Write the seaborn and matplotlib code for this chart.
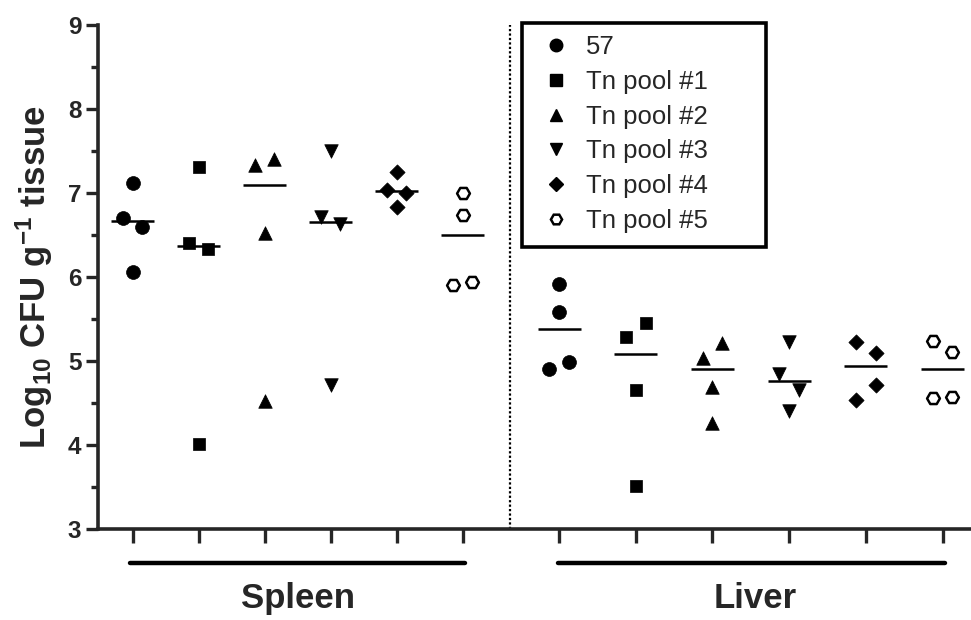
import numpy as np
import pandas as pd
import matplotlib
matplotlib.use("Agg")
import matplotlib.pyplot as plt
import matplotlib.transforms as mtransforms
from matplotlib.lines import Line2D
from matplotlib.patches import Rectangle
import seaborn as sns

# ---------------- data ----------------
groups = ["57", "Tn pool #1", "Tn pool #2", "Tn pool #3", "Tn pool #4", "Tn pool #5"]
tissues = ["Spleen", "Liver"]

spleen_57 = [7.12, 6.70, 6.60, 6.06]
spleen_tn1 = [7.31, 6.41, 6.33, 4.01]
spleen_tn2 = [7.33, 7.40, 6.52, 4.52]
spleen_tn3 = [7.50, 6.72, 6.63, 4.71]
spleen_tn4 = [7.25, 7.03, 7.00, 6.83]
spleen_tn5 = [7.00, 6.74, 5.91, 5.94]

liver_57 = [5.92, 5.58, 4.91, 4.99]
liver_tn1 = [5.45, 5.28, 4.65, 3.51]
liver_tn2 = [5.21, 5.03, 4.69, 4.26]
liver_tn3 = [5.23, 4.85, 4.66, 4.40]
liver_tn4 = [5.23, 5.09, 4.71, 4.54]
liver_tn5 = [5.24, 5.11, 4.56, 4.57]

spleen_lines = [6.67, 6.37, 7.10, 6.66, 7.02, 6.50]
liver_lines = [5.38, 5.08, 4.91, 4.76, 4.94, 4.91]

# horizontal jitter of each point (-1 left, 0 centre, +1 right)
spleen_jit = [[0, -1, 1, 0], [0, -1, 1, 0], [-1, 1, 0, 0],
              [0, -1, 1, 0], [0, -1, 1, 0], [0, 0, -1, 1]]
liver_jit = [[0, 0, -1, 1], [1, -1, 0, 0], [1, -1, 0, 0],
             [0, -1, 1, 0], [-1, 1, 1, -1], [-1, 1, -1, 1]]

spleen_vals = [spleen_57, spleen_tn1, spleen_tn2, spleen_tn3, spleen_tn4, spleen_tn5]
liver_vals = [liver_57, liver_tn1, liver_tn2, liver_tn3, liver_tn4, liver_tn5]

# ---------------- layout ----------------
X0 = {"Spleen": 132.5, "Liver": 559.0}
DX = {"Spleen": 66.0, "Liver": 76.7}
JIT = 9.8
HALF = 21.5
markers = {"57": "o", "Tn pool #1": "s", "Tn pool #2": "^",
           "Tn pool #3": "v", "Tn pool #4": "D", "Tn pool #5": "H"}
msize = {"57": 100, "Tn pool #1": 85, "Tn pool #2": 95,
         "Tn pool #3": 95, "Tn pool #4": 60, "Tn pool #5": 85}

rows = []
centers = {}
for tissue, vals, jits in [("Spleen", spleen_vals, spleen_jit), ("Liver", liver_vals, liver_jit)]:
    for gi, g in enumerate(groups):
        cx = X0[tissue] + DX[tissue] * gi
        centers[(tissue, g)] = cx
        for v, j in zip(vals[gi], jits[gi]):
            rows.append({"tissue": tissue, "group": g, "x": cx + j * JIT, "value": v})
df = pd.DataFrame(rows)

sns.set_theme(style="ticks")
plt.rcParams["font.family"] = ["Liberation Sans", "DejaVu Sans"]
plt.rcParams["mathtext.default"] = "bf"
plt.rcParams["mathtext.fontset"] = "custom"
plt.rcParams["mathtext.bf"] = "Liberation Sans:bold"
plt.rcParams["mathtext.rm"] = "Liberation Sans:bold"
plt.rcParams["axes.unicode_minus"] = False

fig = plt.figure(figsize=(9.71, 6.20), dpi=100)
ax = fig.add_axes([98 / 971, (620 - 529) / 620, (971 - 98) / 971, (529 - 25) / 620])

for g in groups:
    sub = df[df["group"] == g]
    if g == "Tn pool #5":
        sns.scatterplot(data=sub, x="x", y="value", marker=markers[g], s=msize[g],
                        facecolor="white", edgecolor="black", linewidth=1.8, ax=ax, zorder=3)
    else:
        sns.scatterplot(data=sub, x="x", y="value", marker=markers[g], s=msize[g],
                        color="black", edgecolor="black", linewidth=0.5, ax=ax, zorder=3)

for tissue, lines in [("Spleen", spleen_lines), ("Liver", liver_lines)]:
    for gi, g in enumerate(groups):
        cx = centers[(tissue, g)]
        ax.hlines(lines[gi], cx - HALF, cx + HALF, color="black", lw=1.8, zorder=2)

ax.axvline(510, color="black", ls=(0, (1, 1.0)), lw=1.6, zorder=1)

ax.set_xlim(98, 971)
ax.set_ylim(3, 9)
xt = [centers[(t, g)] for t in tissues for g in groups]
ax.set_xticks(xt)
ax.set_xticklabels([])
ax.set_yticks([3, 4, 5, 6, 7, 8, 9])
ax.set_yticks(np.arange(3.5, 9, 1.0), minor=True)
ax.tick_params(axis="y", which="major", length=9, width=2.4, labelsize=17.5, pad=3)
ax.tick_params(axis="y", which="minor", length=5, width=2.4)
ax.tick_params(axis="x", which="major", length=10, width=2.4)
for lab in ax.get_yticklabels():
    lab.set_fontweight("bold")

sns.despine(ax=ax)
ax.spines["left"].set_linewidth(2.6)
ax.spines["bottom"].set_linewidth(2.6)
ax.set_xlabel("")
ax.set_ylabel(r"Log$_{10}$ CFU g$^{-1}$ tissue", fontsize=25,
              fontweight="bold", labelpad=9)

trans = mtransforms.blended_transform_factory(ax.transData, ax.transAxes)
brackets = {"Spleen": (130, 465), "Liver": (558, 945)}
for t in tissues:
    a, b = brackets[t]
    ax.plot([a, b], [-0.068, -0.068], color="black", lw=3.2, transform=trans,
            clip_on=False, solid_capstyle="round")
    ax.text((a + b) / 2 + (4 if t == "Liver" else 0), -0.137, t, transform=trans,
            ha="center", va="center", fontsize=25, fontweight="bold")

handles = []
for g in groups:
    if g == "Tn pool #5":
        h = Line2D([], [], ls="none", marker=markers[g], markersize=8,
                   markerfacecolor="white", markeredgecolor="black", markeredgewidth=1.8)
    else:
        h = Line2D([], [], ls="none", marker=markers[g], color="black",
                   markersize=9 if g != "Tn pool #4" else 7)
    handles.append(h)
lx0 = (536 - 98) / 873
lw_ = (766 - 536) / 873
leg = ax.legend(handles, groups, loc="upper left",
                bbox_to_anchor=(lx0, 1.003, lw_, 0.0), mode="expand",
                frameon=False, fontsize=18.5, handletextpad=0.83,
                borderpad=0.45, labelspacing=0.42, handlelength=0.65, borderaxespad=0)

# legend frame
ax.add_patch(Rectangle(((522 - 98) / 873, (529 - 247) / 504), (766 - 522) / 873, (247 - 23) / 504,
                       transform=ax.transAxes, fill=False, edgecolor="black", lw=2.6,
                       clip_on=False, zorder=4))

fig.savefig("out.png", dpi=100)
